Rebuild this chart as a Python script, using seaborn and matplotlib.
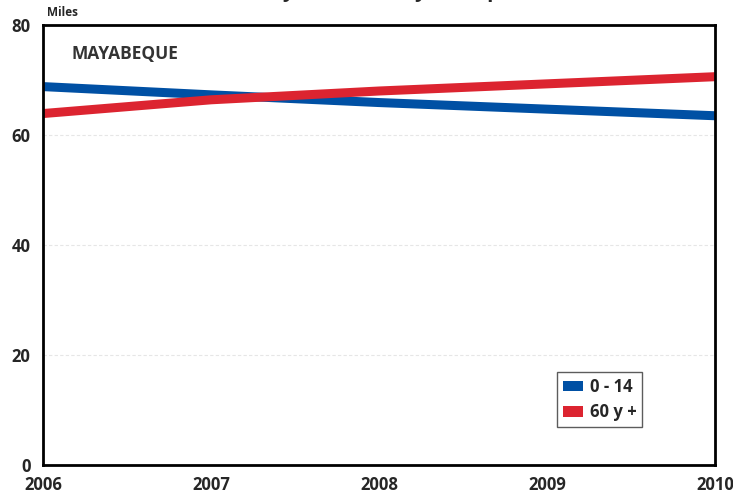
import pandas as pd
import matplotlib
matplotlib.use("Agg")
import matplotlib.pyplot as plt
import seaborn as sns
from matplotlib.patches import Patch

years = [2006, 2007, 2008, 2009, 2010]
group_0_14 = [68.8, 67.3, 65.9, 64.7, 63.5]
group_60 = [63.9, 66.4, 68.0, 69.3, 70.6]
series_names = ["0 - 14", "60 y +"]
colors = ["#0050a4", "#dc2430"]
y_ticks = [0, 20, 40, 60, 80]

df = pd.DataFrame({
    "year": years * 2,
    "value": group_0_14 + group_60,
    "grupo": [series_names[0]] * len(years) + [series_names[1]] * len(years),
})

sns.set_style("white")
plt.rcParams["font.family"] = ["Open Sans", "DejaVu Sans"]
plt.rcParams["font.weight"] = "bold"

fig = plt.figure(figsize=(7.33, 4.94), dpi=100)
ax = fig.add_axes([43 / 733, 29 / 494, 672 / 733, 440 / 494])

sns.lineplot(data=df, x="year", y="value", hue="grupo", palette=colors,
             linewidth=6.5, ax=ax, legend=False)

ax.set_xlim(2006, 2010)
ax.set_ylim(0, 80)
ax.set_xticks(years)
ax.set_yticks(y_ticks)
ax.set_xticklabels([str(y) for y in years], fontsize=12, fontweight="bold")
ax.set_yticklabels([str(v) for v in y_ticks], fontsize=12, fontweight="bold")
ax.tick_params(axis="x", length=0, pad=8)
ax.tick_params(axis="y", length=0, pad=9)
ax.set_xlabel("")
ax.set_ylabel("")
for lbl in ax.get_xticklabels():
    lbl.set_clip_on(False)

for v in [20, 40, 60]:
    ax.axhline(v, color="#e6e6e6", linewidth=0.8, linestyle=(0, (3, 2)), zorder=0)

for s in ax.spines.values():
    s.set_color("black")
    s.set_linewidth(2)

ax.text(0.043, 0.955, "MAYABEQUE", transform=ax.transAxes, fontsize=12.5,
        fontweight="bold", color="#333333", va="top", ha="left")

fig.text(47 / 733, 1 - 13 / 494, "Miles", fontsize=8.5, fontweight="bold",
         va="center", ha="left")
# title sits above the visible area, only its lower part shows
fig.text(0.5, 1.0 + 9 / 494, "Población de 0 - 14 años y de 60 años y más, por años. 2006 - 2010",
         fontsize=15, fontweight="bold", ha="center", va="center")

handles = [Patch(facecolor=c, edgecolor="none") for c in colors]
leg = ax.legend(handles, series_names, loc="lower left",
                bbox_to_anchor=(0.765, 0.086), borderaxespad=0,
                frameon=True, fancybox=False,
                handlelength=1.2, handleheight=0.6, handletextpad=0.4,
                borderpad=0.35, labelspacing=0.45,
                prop={"weight": "bold", "size": 12})
leg.get_frame().set_edgecolor("#333333")
leg.get_frame().set_linewidth(1)

fig.savefig("out.png", dpi=100)
